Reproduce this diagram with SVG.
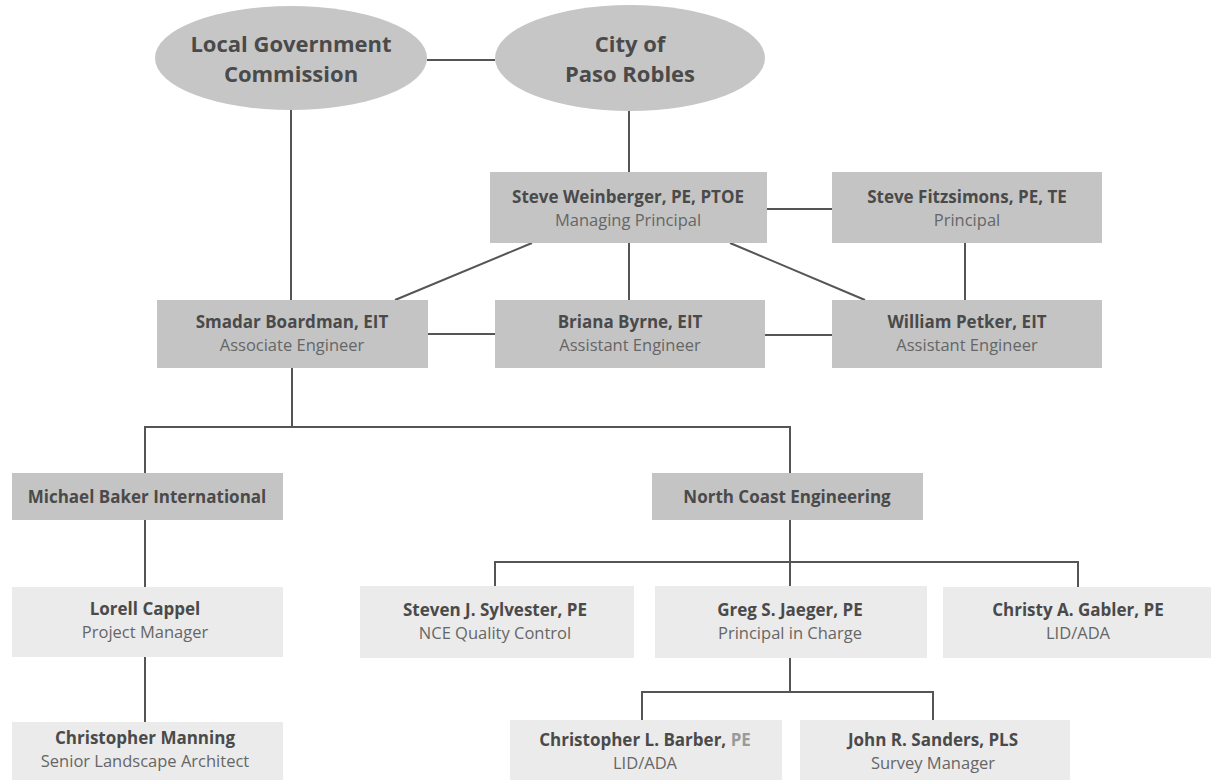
<svg xmlns="http://www.w3.org/2000/svg" width="1216" height="780" viewBox="0 0 1216 780">
<style>
.conn{stroke:#555;stroke-width:2;fill:none}
.box{fill:#c4c4c4}
.lbox{fill:#ebebeb}
.ell{fill:#c6c6c6}
.et{font-family:"Open Sans","Liberation Sans",sans-serif;font-weight:bold;font-size:22px;fill:#4a4a4a;text-anchor:middle}
.nm{font-family:"Open Sans","Liberation Sans",sans-serif;font-weight:bold;font-size:17px;fill:#4a4a4a;text-anchor:middle}
.tt{font-family:"Open Sans","Liberation Sans",sans-serif;font-size:16.5px;fill:#666;text-anchor:middle}
</style>
<rect width="1216" height="780" fill="#fff"/>
<g id="connectors">
<line class="conn" x1="427" y1="60" x2="495" y2="60"/>
<line class="conn" x1="291" y1="110" x2="291" y2="300"/>
<line class="conn" x1="629" y1="111" x2="629" y2="172"/>
<line class="conn" x1="767" y1="209" x2="832" y2="209"/>
<line class="conn" x1="629" y1="243" x2="629" y2="300"/>
<line class="conn" x1="532" y1="243" x2="395" y2="300"/>
<line class="conn" x1="730" y1="243" x2="865" y2="300"/>
<line class="conn" x1="965" y1="243" x2="965" y2="300"/>
<line class="conn" x1="428" y1="334" x2="495" y2="334"/>
<line class="conn" x1="765" y1="335" x2="832" y2="335"/>
<polyline class="conn" points="292,368 292,427"/>
<polyline class="conn" points="145,473 145,427 790,427 790,473"/>
<line class="conn" x1="145" y1="520" x2="145" y2="587"/>
<line class="conn" x1="790" y1="520" x2="790" y2="562"/>
<polyline class="conn" points="495,587 495,562 1078,562 1078,587"/>
<line class="conn" x1="790" y1="562" x2="790" y2="587"/>
<line class="conn" x1="145" y1="657" x2="145" y2="722"/>
<line class="conn" x1="790" y1="658" x2="790" y2="692"/>
<polyline class="conn" points="642,720 642,692 933,692 933,720"/>
</g>
<g id="lgc">
<ellipse class="ell" cx="291" cy="58" rx="136" ry="52"/>
<text class="et" x="291" y="52">Local Government</text>
<text class="et" x="291" y="82">Commission</text>
</g>
<g id="paso">
<ellipse class="ell" cx="630" cy="58" rx="135" ry="53"/>
<text class="et" x="630" y="52">City of</text>
<text class="et" x="630" y="82">Paso Robles</text>
</g>
<g id="weinberger">
<rect class="box" x="490" y="172" width="277" height="71"/>
<text class="nm" x="628" y="203">Steve Weinberger, PE, PTOE</text>
<text class="tt" x="628" y="226">Managing Principal</text>
</g>
<g id="fitzsimons">
<rect class="box" x="832" y="172" width="270" height="71"/>
<text class="nm" x="967" y="203">Steve Fitzsimons, PE, TE</text>
<text class="tt" x="967" y="226">Principal</text>
</g>
<g id="boardman">
<rect class="box" x="157" y="300" width="271" height="68"/>
<text class="nm" x="292" y="328">Smadar Boardman, EIT</text>
<text class="tt" x="292" y="351">Associate Engineer</text>
</g>
<g id="byrne">
<rect class="box" x="495" y="300" width="270" height="68"/>
<text class="nm" x="630" y="328">Briana Byrne, EIT</text>
<text class="tt" x="630" y="351">Assistant Engineer</text>
</g>
<g id="petker">
<rect class="box" x="832" y="300" width="270" height="68"/>
<text class="nm" x="967" y="328">William Petker, EIT</text>
<text class="tt" x="967" y="351">Assistant Engineer</text>
</g>
<g id="baker">
<rect class="box" x="12" y="473" width="271" height="47"/>
<text class="nm" x="147" y="503">Michael Baker International</text>
</g>
<g id="nce">
<rect class="box" x="652" y="473" width="271" height="47"/>
<text class="nm" x="787" y="503">North Coast Engineering</text>
</g>
<g id="cappel">
<rect class="lbox" x="12" y="587" width="271" height="70"/>
<text class="nm" x="145" y="615">Lorell Cappel</text>
<text class="tt" x="145" y="638">Project Manager</text>
</g>
<g id="sylvester">
<rect class="lbox" x="360" y="586" width="274" height="72"/>
<text class="nm" x="495" y="616">Steven J. Sylvester, PE</text>
<text class="tt" x="495" y="639">NCE Quality Control</text>
</g>
<g id="jaeger">
<rect class="lbox" x="655" y="586" width="272" height="72"/>
<text class="nm" x="790" y="616">Greg S. Jaeger, PE</text>
<text class="tt" x="790" y="639">Principal in Charge</text>
</g>
<g id="gabler">
<rect class="lbox" x="943" y="587" width="268" height="71"/>
<text class="nm" x="1078" y="616">Christy A. Gabler, PE</text>
<text class="tt" x="1078" y="639">LID/ADA</text>
</g>
<g id="manning">
<rect class="lbox" x="12" y="722" width="271" height="58"/>
<text class="nm" x="145" y="744">Christopher Manning</text>
<text class="tt" x="145" y="767">Senior Landscape Architect</text>
</g>
<g id="barber">
<rect class="lbox" x="510" y="720" width="272" height="60"/>
<text class="nm" x="645" y="746">Christopher L. Barber, <tspan fill="#9a9a9a">PE</tspan></text>
<text class="tt" x="645" y="769">LID/ADA</text>
</g>
<g id="sanders">
<rect class="lbox" x="800" y="720" width="270" height="60"/>
<text class="nm" x="933" y="746">John R. Sanders, PLS</text>
<text class="tt" x="933" y="769">Survey Manager</text>
</g>
</svg>
